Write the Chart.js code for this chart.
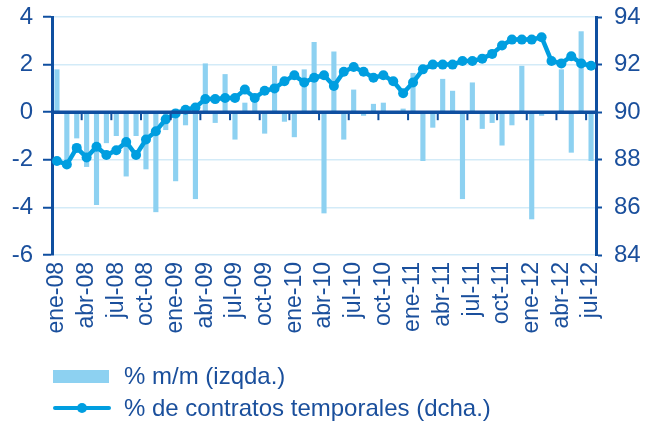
<!DOCTYPE html>
<html lang="es">
<head>
<meta charset="utf-8">
<title>Contratos temporales</title>
<script src="https://cdn.jsdelivr.net/npm/chart.js@4.4.1/dist/chart.umd.min.js"></script>
<style>
  html, body { margin: 0; padding: 0; background: #fff; }
  #wrap { position: relative; width: 668px; height: 423px; font-family: 'Liberation Sans', Arial, sans-serif; }
  #wrap canvas { position: absolute; left: 0; top: 0; }
  .leyenda { position: absolute; left: 53px; color: #1a4f9c; font-size: 24px; display: flex; align-items: center; }
  .leyenda .caja { width: 56px; height: 13px; background: #8dd1f1; margin-right: 15px; }
  .leyenda .linea { position: relative; width: 58px; height: 4px; border-radius: 2px; background: #009ee0; margin-right: 13px; }
  .leyenda .linea::after { content: ''; position: absolute; left: 24px; top: -3px; width: 10px; height: 10px; border-radius: 50%; background: #009ee0; }
</style>
</head>
<body>
<div id="wrap">
  <canvas id="grafico" width="668" height="423"></canvas>
  <div class="leyenda" style="top:362px"><span class="caja"></span>% m/m (izqda.)</div>
  <div class="leyenda" style="top:394px"><span class="linea"></span>% de contratos temporales (dcha.)</div>
</div>
<script>
const meses = [
  'ene-08','feb-08','mar-08','abr-08','may-08','jun-08','jul-08','ago-08','sep-08','oct-08','nov-08','dic-08',
  'ene-09','feb-09','mar-09','abr-09','may-09','jun-09','jul-09','ago-09','sep-09','oct-09','nov-09','dic-09',
  'ene-10','feb-10','mar-10','abr-10','may-10','jun-10','jul-10','ago-10','sep-10','oct-10','nov-10','dic-10',
  'ene-11','feb-11','mar-11','abr-11','may-11','jun-11','jul-11','ago-11','sep-11','oct-11','nov-11','dic-11',
  'ene-12','feb-12','mar-12','abr-12','may-12','jun-12','jul-12'
];

// % m/m (eje izquierdo)
const variacionMensual = [
  1.8, -2.0, -1.1, -2.3, -3.9, -1.3, -1.0, -2.7, -1.0, -2.4, -4.2, -0.75,
  -2.9, -0.55, -3.65, 2.05, -0.45, 1.6, -1.15, 0.4, 0.7, -0.9, 1.95, -0.4,
  -1.05, 1.8, 2.95, -4.25, 2.55, -1.15, 0.95, -0.15, 0.35, 0.4, 0.05, 0.15,
  1.65, -2.05, -0.65, 1.4, 0.9, -3.65, 1.25, -0.7, -0.45, -1.4, -0.55, 1.95,
  -4.5, -0.15, 0, 1.8, -1.7, 3.4, -2.05
];

// % de contratos temporales (eje derecho)
const contratosTemporales = [
  87.95, 87.8, 88.5, 88.1, 88.55, 88.2, 88.4, 88.75, 88.2, 88.85, 89.2, 89.7,
  89.95, 90.1, 90.2, 90.55, 90.55, 90.6, 90.6, 90.95, 90.6, 90.9, 91.0, 91.3,
  91.55, 91.25, 91.45, 91.55, 91.1, 91.7, 91.9, 91.7, 91.45, 91.55, 91.3, 90.8,
  91.25, 91.8, 92.0, 92.0, 92.0, 92.15, 92.15, 92.25, 92.45, 92.8, 93.05, 93.05,
  93.05, 93.15, 92.15, 92.05, 92.35, 92.05, 91.95
];

const oscuro = '#0f4fa0';
const texto = '#1a4f9c';
const celeste = '#8dd1f1';
const azulLinea = '#009ee0';
const rejilla = '#d3ebf8';
const fuente = "'Liberation Sans', Arial, sans-serif";

// linea del cero y marcas trimestrales, por encima de las barras
const ejeCero = {
  id: 'ejeCero',
  afterDatasetDraw(chart, args) {
    if (args.index !== 0) return;
    const { ctx, chartArea, scales: { x, y } } = chart;
    const y0 = y.getPixelForValue(0);
    ctx.save();
    ctx.strokeStyle = oscuro;
    ctx.lineWidth = 3.5;
    ctx.beginPath();
    ctx.moveTo(chartArea.left, y0);
    ctx.lineTo(chartArea.right, y0);
    ctx.stroke();
    ctx.lineWidth = 2;
    for (let i = 3; i < meses.length; i += 3) {
      const px = (x.getPixelForValue(i - 1) + x.getPixelForValue(i)) / 2;
      ctx.beginPath();
      ctx.moveTo(px, y0);
      ctx.lineTo(px, y0 + 8);
      ctx.stroke();
    }
    ctx.restore();
  }
};

// ancho fijo de los ejes y sin relleno extra arriba/abajo
const ajustarEjeY = ancho => s => {
  s.width = ancho;
  s.paddingTop = 0;
  s.paddingBottom = 0;
};

new Chart(document.getElementById('grafico'), {
  data: {
    labels: meses,
    datasets: [
      {
        type: 'line',
        label: '% de contratos temporales (dcha.)',
        data: contratosTemporales,
        yAxisID: 'y1',
        borderColor: azulLinea,
        backgroundColor: azulLinea,
        borderWidth: 4.5,
        pointRadius: 5,
        pointBackgroundColor: azulLinea,
        pointBorderWidth: 0,
        tension: 0,
        order: 1
      },
      {
        type: 'bar',
        label: '% m/m (izqda.)',
        data: variacionMensual,
        yAxisID: 'y',
        backgroundColor: celeste,
        categoryPercentage: 1,
        barPercentage: 0.52,
        order: 2
      }
    ]
  },
  options: {
    responsive: false,
    animation: false,
    layout: { padding: { top: 17, bottom: 88, left: 0, right: 0 } },
    plugins: {
      legend: { display: false },
      tooltip: { enabled: false }
    },
    scales: {
      x: {
        offset: true,
        grid: { display: false, drawTicks: false },
        border: { display: false },
        ticks: {
          autoSkip: false,
          minRotation: 90,
          maxRotation: 90,
          padding: 7,
          color: texto,
          font: { family: fuente, size: 23 },
          callback: (v, i) => i % 3 === 0 ? meses[i] : ''
        },
        afterFit: s => { s.height = 80; s.paddingLeft = 0; s.paddingRight = 0; }
      },
      y: {
        position: 'left',
        min: -6,
        max: 4,
        ticks: { stepSize: 2, padding: 10, color: texto, font: { family: fuente, size: 24 } },
        grid: {
          color: c => c.tick && c.tick.value === 0 ? oscuro : rejilla,
          lineWidth: 1.5,
          tickColor: oscuro,
          tickLength: 9,
          tickWidth: 2
        },
        border: { color: oscuro, width: 3 },
        afterFit: ajustarEjeY(52)
      },
      y1: {
        position: 'right',
        min: 84,
        max: 94,
        ticks: { stepSize: 2, padding: 12, color: texto, font: { family: fuente, size: 24 } },
        grid: { drawOnChartArea: false, color: oscuro, tickLength: 6, tickWidth: 2 },
        border: { color: oscuro, width: 3 },
        afterFit: ajustarEjeY(72)
      }
    }
  },
  plugins: [ejeCero]
});
</script>
</body>
</html>
